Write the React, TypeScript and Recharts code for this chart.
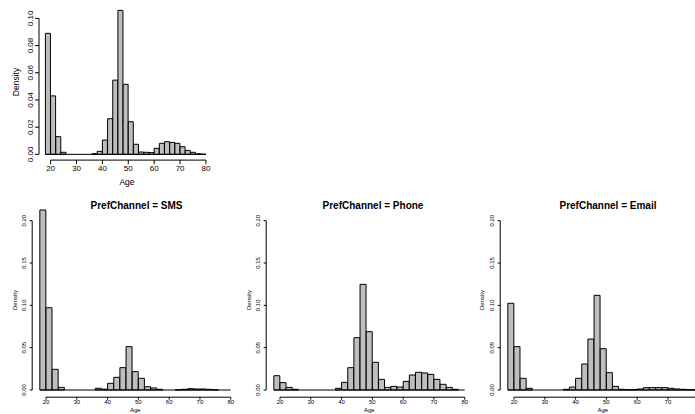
import React from 'react';
import { BarChart, Bar, XAxis, YAxis, ReferenceLine } from 'recharts';

// histogram bins of width 2, from 18 to 80 (mid points)
const binMids = [19, 21, 23, 25, 27, 29, 31, 33, 35, 37, 39, 41, 43, 45, 47, 49, 51, 53, 55, 57, 59, 61, 63, 65, 67, 69, 71, 73, 75, 77, 79];
const binWidth = 2;

// densities
const allDensity = [0.089, 0.043, 0.013, 0.0015, 0, 0, 0, 0, 0, 0.0005, 0.0022, 0.0105, 0.0262, 0.0546, 0.1059, 0.0515, 0.024, 0.0074, 0.0017, 0.0015, 0.0013, 0.0044, 0.0081, 0.0093, 0.0088, 0.0081, 0.0056, 0.0029, 0.0015, 0.0004, 0.0001];
const smsDensity = [0.2126, 0.0972, 0.0244, 0.0031, 0, 0, 0, 0, 0, 0.002, 0.001, 0.0079, 0.015, 0.0264, 0.0512, 0.0217, 0.0138, 0.0039, 0.0024, 0.0008, 0, 0, 0.0003, 0.0008, 0.0016, 0.0012, 0.0012, 0.0008, 0.0003, 0, 0];
const phoneDensity = [0.0169, 0.0087, 0.0031, 0.0008, 0, 0, 0, 0, 0, 0, 0.002, 0.009, 0.0264, 0.0618, 0.1248, 0.0689, 0.0327, 0.0126, 0.0031, 0.0043, 0.0035, 0.0102, 0.0177, 0.0209, 0.0201, 0.0185, 0.0126, 0.0067, 0.0031, 0.0008, 0];
const emailDensity = [0.1024, 0.0512, 0.0138, 0.002, 0, 0, 0, 0, 0, 0.0008, 0.0035, 0.0138, 0.0307, 0.0602, 0.1118, 0.0488, 0.0205, 0.0043, 0.0008, 0.0004, 0.0004, 0.0012, 0.0028, 0.0028, 0.0028, 0.0028, 0.002, 0.0012, 0.0008, 0.0004, 0.0002];

const ageTicks = [20, 30, 40, 50, 60, 70, 80];
// the Email panel runs off the right edge, its 80 label is not shown
const emailAgeTicks = [20, 30, 40, 50, 60, 70];
const topDensityTicks = [0, 0.02, 0.04, 0.06, 0.08, 0.1];
const panelDensityTicks = [0, 0.05, 0.1, 0.15, 0.2];

const FONT = '"Liberation Sans", Arial, Helvetica, sans-serif';

const RotTick = (props: any) => {
  const { x, y, payload, fs } = props;
  return (
    <text x={x} y={y} transform={`rotate(-90 ${x} ${y})`} textAnchor="middle" fontSize={fs} fill="#000" fontFamily={FONT}>
      {Number(payload.value).toFixed(2)}
    </text>
  );
};

type HistProps = {
  values: number[];
  yMax: number;
  yTicks: number[];
  xTicks?: number[];
  box: { left: number; top: number; width: number; height: number };
  margin: { top: number; right: number; bottom: number; left: number };
  axisW: number;
  axisH: number;
  fs: number;
  tick: number;
  yGap: number;
  xGap: number;
};

function Hist({ values, yMax, yTicks, xTicks = ageTicks, box, margin, axisW, axisH, fs, tick, yGap, xGap }: HistProps) {
  const data = binMids.map((mid, i) => ({ mid, d: values[i] }));
  const x0 = binMids[0] - binWidth / 2;
  const x1 = binMids[binMids.length - 1] + binWidth / 2;
  const xPad = (x1 - x0) * 0.04;
  const yPad = yMax * 0.04;
  const xDom = [x0 - xPad, x1 + xPad];
  const yDom = [-yPad, yMax + yPad];
  const m = { ...margin, left: margin.left - axisW, bottom: margin.bottom - axisH };

  return (
    <div style={{ position: 'absolute', left: box.left, top: box.top }}>
      <BarChart width={box.width} height={box.height} data={data} margin={m} barCategoryGap={0} barGap={0}>
        <XAxis
          dataKey="mid"
          type="number"
          domain={xDom}
          allowDataOverflow
          ticks={xTicks}
          interval={0}
          axisLine={false}
          stroke="#000"
          tickLine={{ stroke: '#000' }}
          tickSize={tick}
          tickMargin={xGap}
          height={axisH}
          tick={{ fontSize: fs, fill: '#000', fontFamily: FONT }}
        />
        <YAxis
          type="number"
          domain={yDom}
          allowDataOverflow
          ticks={yTicks}
          interval={0}
          axisLine={false}
          stroke="#000"
          tickLine={{ stroke: '#000' }}
          tickSize={tick}
          tickMargin={yGap}
          width={axisW}
          tick={<RotTick fs={fs} />}
        />
        <Bar dataKey="d" fill="#bebebe" stroke="#000" strokeWidth={1} isAnimationActive={false} />
        <ReferenceLine segment={[{ x: x0, y: 0 }, { x: x1, y: 0 }]} stroke="#000" ifOverflow="visible" />
        <ReferenceLine segment={[{ x: ageTicks[0], y: yDom[0] }, { x: ageTicks[ageTicks.length - 1], y: yDom[0] }]} stroke="#000" ifOverflow="visible" />
        <ReferenceLine segment={[{ x: xDom[0], y: 0 }, { x: xDom[0], y: yTicks[yTicks.length - 1] }]} stroke="#000" ifOverflow="visible" />
      </BarChart>
    </div>
  );
}

const panelMax = Math.max(...smsDensity, ...phoneDensity, ...emailDensity);
const panelMargin = { top: 7.8, right: 1.6, bottom: 16.8, left: 32.2 };

export default function App() {
  return (
    <div style={{ position: 'fixed', left: 0, top: 0, width: 695, height: 414, overflow: 'hidden', background: '#fff' }}>
      <Hist
        values={allDensity}
        yMax={Math.max(...allDensity)}
        yTicks={topDensityTicks}
        box={{ left: 0, top: 0, width: 230, height: 195 }}
        margin={{ top: 4.6, right: 17.6, bottom: 34.9, left: 39 }}
        axisW={25}
        axisH={20}
        fs={8}
        tick={4}
        yGap={2}
        xGap={1.5}
      />
      <Hist values={smsDensity} yMax={panelMax} yTicks={panelDensityTicks} box={{ left: 0, top: 195, width: 240, height: 219 }} margin={panelMargin} axisW={20} axisH={12} fs={6} tick={2.5} yGap={4} xGap={0.5} />
      <Hist values={phoneDensity} yMax={panelMax} yTicks={panelDensityTicks} box={{ left: 234, top: 195, width: 240, height: 219 }} margin={panelMargin} axisW={20} axisH={12} fs={6} tick={2.5} yGap={4} xGap={0.5} />
      <Hist values={emailDensity} yMax={panelMax} yTicks={panelDensityTicks} xTicks={emailAgeTicks} box={{ left: 467.5, top: 195, width: 240, height: 219 }} margin={panelMargin} axisW={20} axisH={12} fs={6} tick={2.5} yGap={4} xGap={0.5} />
      <svg width={695} height={414} style={{ position: 'absolute', left: 0, top: 0, pointerEvents: 'none' }} fontFamily={FONT}>
        <text x={127} y={184.8} textAnchor="middle" fontSize={8.5}>Age</text>
        <text x={16} y={82} transform="rotate(-90 16 82)" textAnchor="middle" dominantBaseline="central" fontSize={8.5}>Density</text>
        <text x={136.5} y={208.5} textAnchor="middle" fontSize={10} fontWeight="bold">PrefChannel = SMS</text>
        <text x={373} y={208.5} textAnchor="middle" fontSize={10} fontWeight="bold">PrefChannel = Phone</text>
        <text x={608} y={208.5} textAnchor="middle" fontSize={10} fontWeight="bold">PrefChannel = Email</text>
        <text x={135.3} y={412} textAnchor="middle" fontSize={6}>Age</text>
        <text x={369.3} y={412} textAnchor="middle" fontSize={6}>Age</text>
        <text x={602.8} y={412} textAnchor="middle" fontSize={6}>Age</text>
        <text x={14.7} y={300} transform="rotate(-90 14.7 300)" textAnchor="middle" dominantBaseline="central" fontSize={6}>Density</text>
        <text x={248.7} y={300} transform="rotate(-90 248.7 300)" textAnchor="middle" dominantBaseline="central" fontSize={6}>Density</text>
        <text x={482.2} y={300} transform="rotate(-90 482.2 300)" textAnchor="middle" dominantBaseline="central" fontSize={6}>Density</text>
      </svg>
    </div>
  );
}
